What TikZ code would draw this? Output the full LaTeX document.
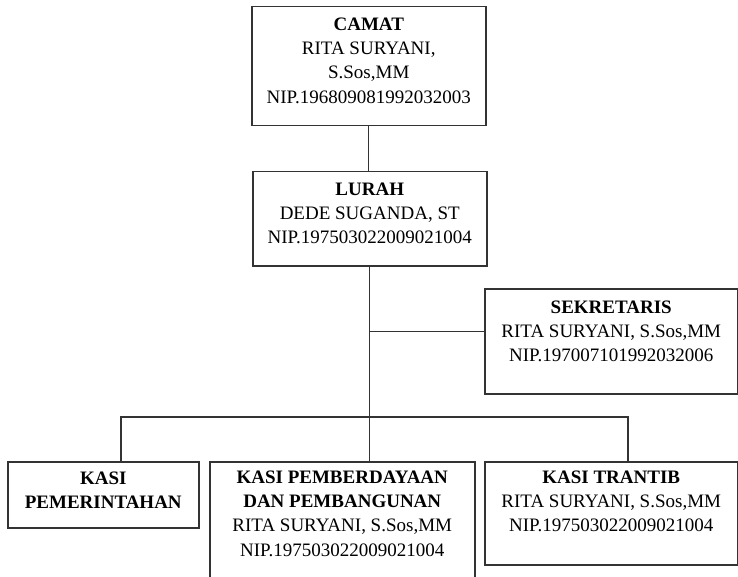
\documentclass[tikz,border=0pt]{standalone}
\usepackage{fontspec}
\setmainfont{Liberation Serif}
\usepackage{tikz}
\usetikzlibrary{positioning}

\newcommand\orgfont{\fontsize{19}{24.3}\selectfont}

\tikzset{
  orgbox/.style={draw=black!80, line width=1.5pt, inner sep=0pt, anchor=north west},
  orgtxt/.style={align=center, inner sep=0pt, font=\orgfont},
  link/.style={draw=black!80, line width=1.1pt}
}

\begin{document}
\begin{tikzpicture}[x=1pt, y=-1pt]
\useasboundingbox (0,0) rectangle (738,577);

% boxes
\node[orgbox, minimum width=234pt, minimum height=119pt] (camat) at (251,6) {};
\node[orgbox, minimum width=234pt, minimum height=94pt] (lurah) at (252,171) {};
\node[orgbox, minimum width=253pt, minimum height=105pt] (sekretaris) at (484,288) {};
\node[orgbox, minimum width=191pt, minimum height=66pt] (pemerintahan) at (7,461) {};
\node[orgbox, minimum width=265pt, minimum height=140pt] (pembangunan) at (209,461) {};
\node[orgbox, minimum width=253pt, minimum height=103pt] (trantib) at (484,461) {};

% texts
\node[orgtxt, below=11.5pt of camat.north] (camat-t) {\textbf{CAMAT}\\RITA SURYANI,\\S.Sos,MM\\NIP.196809081992032003};
\node[orgtxt, below=11.5pt of lurah.north] (lurah-t) {\textbf{LURAH}\\DEDE SUGANDA, ST\\NIP.197503022009021004};
\node[orgtxt, below=12.5pt of sekretaris.north] (sekretaris-t) {\textbf{SEKRETARIS}\\RITA SURYANI, S.Sos,MM\\NIP.197007101992032006};
\node[orgtxt, below=10.5pt of pemerintahan.north] (pemerintahan-t) {\textbf{KASI}\\\textbf{PEMERINTAHAN}};
\node[orgtxt, below=9.5pt of pembangunan.north] (pembangunan-t) {\textbf{KASI PEMBERDAYAAN}\\\textbf{DAN PEMBANGUNAN}\\RITA SURYANI, S.Sos,MM\\NIP.197503022009021004};
\node[orgtxt, below=9.5pt of trantib.north] (trantib-t) {\textbf{KASI TRANTIB}\\RITA SURYANI, S.Sos,MM\\NIP.197503022009021004};

% connectors
\coordinate (barL) at (121,417);
\coordinate (barR) at (628,417);
\draw[link] (camat.south) -- (camat.south |- lurah.north);
\draw[link] (lurah.south) -- (lurah.south |- pembangunan.north);
\draw[link] (sekretaris-t -| lurah.south) -- (sekretaris-t -| sekretaris.west);
\draw[link] (barL |- pemerintahan.north) -- (barL) -- (barR) -- (barR |- trantib.north);
\end{tikzpicture}
\end{document}
